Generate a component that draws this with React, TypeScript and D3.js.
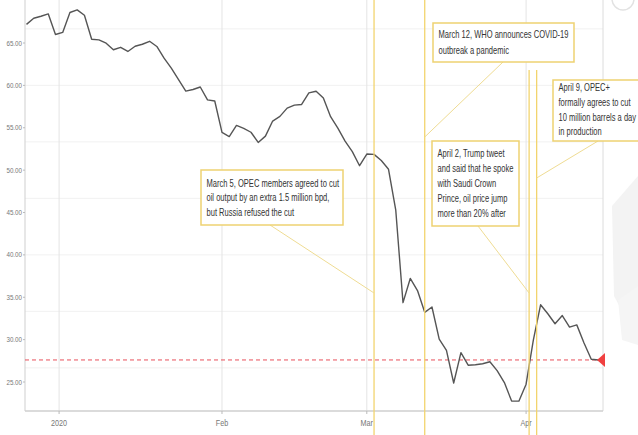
import React from "react";
import * as d3 from "d3";

// Daily Brent closing prices (USD/bbl), trading days only
const tradeDates: string[] = [
  "2019-12-24", "2019-12-26", "2019-12-27", "2019-12-30", "2019-12-31",
  "2020-01-02", "2020-01-03", "2020-01-06", "2020-01-07", "2020-01-08", "2020-01-09", "2020-01-10",
  "2020-01-13", "2020-01-14", "2020-01-15", "2020-01-16", "2020-01-17",
  "2020-01-20", "2020-01-21", "2020-01-22", "2020-01-23", "2020-01-24",
  "2020-01-27", "2020-01-28", "2020-01-29", "2020-01-30", "2020-01-31",
  "2020-02-03", "2020-02-04", "2020-02-05", "2020-02-06", "2020-02-07",
  "2020-02-10", "2020-02-11", "2020-02-12", "2020-02-13", "2020-02-14",
  "2020-02-17", "2020-02-18", "2020-02-19", "2020-02-20", "2020-02-21",
  "2020-02-24", "2020-02-25", "2020-02-26", "2020-02-27", "2020-02-28",
  "2020-03-02", "2020-03-03", "2020-03-04", "2020-03-05", "2020-03-06",
  "2020-03-09", "2020-03-10", "2020-03-11", "2020-03-12", "2020-03-13",
  "2020-03-16", "2020-03-17", "2020-03-18", "2020-03-19", "2020-03-20",
  "2020-03-23", "2020-03-24", "2020-03-25", "2020-03-26", "2020-03-27",
  "2020-03-30", "2020-03-31",
  "2020-04-01", "2020-04-02", "2020-04-03", "2020-04-06", "2020-04-07", "2020-04-08", "2020-04-09",
  "2020-04-13", "2020-04-14", "2020-04-15", "2020-04-16",
];

const closePrices: number[] = [
  67.2, 67.92, 68.16, 68.44, 66.0,
  66.25, 68.6, 68.91, 68.27, 65.44, 65.37, 64.98,
  64.2, 64.49, 64.0, 64.62, 64.85,
  65.2, 64.59, 63.21, 62.04, 60.69,
  59.32, 59.51, 59.81, 58.29, 58.16,
  54.45, 53.96, 55.28, 54.93, 54.47,
  53.27, 54.01, 55.79, 56.34, 57.32,
  57.67, 57.75, 59.12, 59.31, 58.5,
  56.3, 54.95, 53.43, 52.18, 50.52,
  51.9, 51.86, 51.13, 50.1, 45.27,
  34.36, 37.22, 35.79, 33.22, 33.85,
  30.05, 28.73, 24.88, 28.47, 26.98,
  27.03, 27.15, 27.39, 26.34, 24.93,
  22.76, 22.74,
  24.74, 29.94, 34.11, 33.05, 31.87, 32.84, 31.48,
  31.74, 29.6, 27.69, 27.6,
];

const yTickValues: number[] = [25, 30, 35, 40, 45, 50, 55, 60, 65];
const monthTickDates: string[] = ["2020-01-01", "2020-02-03", "2020-03-02", "2020-04-01"];
const monthTickLabels: string[] = ["2020", "Feb", "Mar", "Apr"];

// Event markers: anchor time on the price axis and note text
const eventAnchors: string[] = ["2020-03-03", "2020-03-12", "2020-04-01T10:00", "2020-04-02T11:00"];
const eventNotes: string[][] = [
  ["March 5, OPEC members agreed to cut", "oil output by an extra 1.5 million bpd,", "but Russia refused the cut"],
  ["March 12, WHO announces COVID-19", "outbreak a pandemic"],
  ["April 2, Trump tweet", "and said that he spoke", "with Saudi Crown", "Prince, oil price jump", "more than 20% after"],
  ["April 9, OPEC+", "formally agrees to cut", "10 million barrels a day", "in production"],
];

// Layout of the note boxes (pixels)
const noteLayout = [
  { x: 201, y: 170, w: 142, h: 55, lineTop: 0, from: [270, 225], to: 293, first: 17, step: 14.3 },
  { x: 433, y: 23, w: 141, h: 39, lineTop: 0, from: [503, 62], to: 137, first: 15, step: 15.5 },
  { x: 432, y: 141, w: 87, h: 85, lineTop: 70, from: [478, 226], to: 293, first: 16, step: 15 },
  { x: 553, y: 80, w: 90, h: 61, lineTop: 70, from: [598, 141], to: 178, first: 11, step: 14.8 },
];

const W = 638;
const H = 435;
const plot = { left: 25, right: 603, top: 0, bottom: 411 };

const FONT = "'Liberation Sans', Arial, sans-serif";

// horizontally condensed text
function Narrow(props: {
  x: number; y: number; sx: number; size: number; fill: string; anchor?: "start" | "middle" | "end"; children: React.ReactNode;
}) {
  return (
    <g transform={`translate(${props.x},${props.y}) scale(${props.sx},1)`}>
      <text x={0} y={0} textAnchor={props.anchor ?? "start"} fontFamily={FONT} fontSize={props.size} fill={props.fill}>
        {props.children}
      </text>
    </g>
  );
}

export default function App() {
  const parse = d3.isoParse;
  const x = d3.scalePoint<string>().domain(tradeDates).range([26.5, 598.5]);
  const y = d3.scaleLinear().domain([25, 65]).range([382, 43]);

  const times = tradeDates.map((d) => (parse(d) as Date).getTime());
  // position of an arbitrary time on the trading-day axis
  const xAt = (s: string) => {
    const t = (parse(s) as Date).getTime();
    const i = d3.bisectRight(times, t);
    if (i <= 0) return x(tradeDates[0])!;
    if (i >= times.length) return x(tradeDates[times.length - 1])!;
    const t0 = times[i - 1];
    const t1 = times[i];
    const f = (t - t0) / (t1 - t0);
    return x(tradeDates[i - 1])! + f * (x(tradeDates[i])! - x(tradeDates[i - 1])!);
  };

  const series = tradeDates.map((d, i) => ({ d, v: closePrices[i] }));
  const line = d3
    .line<{ d: string; v: number }>()
    .x((p) => x(p.d)!)
    .y((p) => y(p.v));

  const last = closePrices[closePrices.length - 1];
  const yLast = y(last);

  const gridValues = d3.range(7).map((i) => 26.6667 + (i * 20) / 3);

  return (
    <div style={{ position: "absolute", left: 0, top: 0 }}>
      <svg width={W} height={H} style={{ display: "block", background: "#fff" }}>
        {/* faint backdrop shapes on the right margin */}
        <path d="M612,206 L638,176 L638,300 L626,318 L614,296 Z" fill="#f3f3f3" />
        <path d="M618,300 L638,286 L638,345 L622,340 Z" fill="#f5f5f5" />

        {/* faint horizontal grid */}
        {gridValues.map((g, i) => (
          <line key={"hg" + i} x1={plot.left} x2={plot.right} y1={y(g)} y2={y(g)} stroke="#f1f1f1" strokeWidth={1} />
        ))}
        {/* vertical month grid */}
        {monthTickDates.map((d, i) => (
          <line key={"vg" + i} x1={xAt(d)} x2={xAt(d)} y1={plot.top} y2={plot.bottom} stroke="#e4e4e4" strokeWidth={1} />
        ))}

        {/* frame */}
        <line x1={plot.left} x2={plot.left} y1={plot.top} y2={plot.bottom} stroke="#cfcfcf" strokeWidth={1} />
        <line x1={plot.right} x2={plot.right} y1={plot.top} y2={plot.bottom} stroke="#dcdcdc" strokeWidth={1} />
        <line x1={plot.left} x2={plot.right} y1={plot.bottom} y2={plot.bottom} stroke="#cfcfcf" strokeWidth={1.5} />

        {/* y axis */}
        {yTickValues.map((v) => (
          <g key={"yt" + v}>
            <line x1={plot.left - 2} x2={plot.left} y1={y(v)} y2={y(v)} stroke="#bbb" />
            <Narrow x={plot.left - 3} y={y(v) + 2.6} sx={0.8} size={7.8} fill="#777" anchor="end">
              {v.toFixed(2)}
            </Narrow>
          </g>
        ))}

        {/* x axis */}
        {monthTickDates.map((d, i) => (
          <g key={"xt" + i}>
            <line x1={xAt(d)} x2={xAt(d)} y1={plot.bottom} y2={plot.bottom + 3} stroke="#bbb" />
            <Narrow x={xAt(d)} y={426} sx={0.82} size={8.8} fill="#777" anchor="middle">
              {monthTickLabels[i]}
            </Narrow>
          </g>
        ))}

        {/* last price line */}
        <line x1={plot.left} x2={plot.right} y1={yLast} y2={yLast} stroke="#e8505b" strokeWidth={1} strokeDasharray="4,3" />

        {/* price line */}
        <path d={line(series) ?? ""} fill="none" stroke="#555" strokeWidth={1.4} strokeLinejoin="round" />

        {/* last price marker */}
        <path d={`M${plot.right - 6},${yLast} L${plot.right + 2},${yLast - 7} L${plot.right + 2},${yLast + 7} Z`} fill="#f04040" />

        {/* event lines and connectors */}
        {eventAnchors.map((a, i) => {
          const L = noteLayout[i];
          const ex = xAt(a);
          return (
            <g key={"ev" + i}>
              <line x1={ex} x2={ex} y1={L.lineTop} y2={H} stroke="#f2d46e" strokeWidth={1.3} />
              <line x1={L.from[0]} y1={L.from[1]} x2={ex} y2={L.to} stroke="#efdc93" strokeWidth={1} />
            </g>
          );
        })}
        {/* note boxes */}
        {eventNotes.map((lines, i) => {
          const L = noteLayout[i];
          return (
            <g key={"note" + i}>
              <rect x={L.x} y={L.y} width={L.w} height={L.h} fill="#fff" stroke="#eed272" strokeWidth={1.5} />
              {lines.map((t, j) => (
                <Narrow key={j} x={L.x + 5.5} y={L.y + L.first + j * L.step} sx={0.74} size={10.2} fill="#333">
                  {t}
                </Narrow>
              ))}
            </g>
          );
        })}

        {/* corner decoration */}
        <circle cx={623} cy={-1} r={11} fill="none" stroke="#e2e2e2" strokeWidth={1.5} />
      </svg>
    </div>
  );
}
